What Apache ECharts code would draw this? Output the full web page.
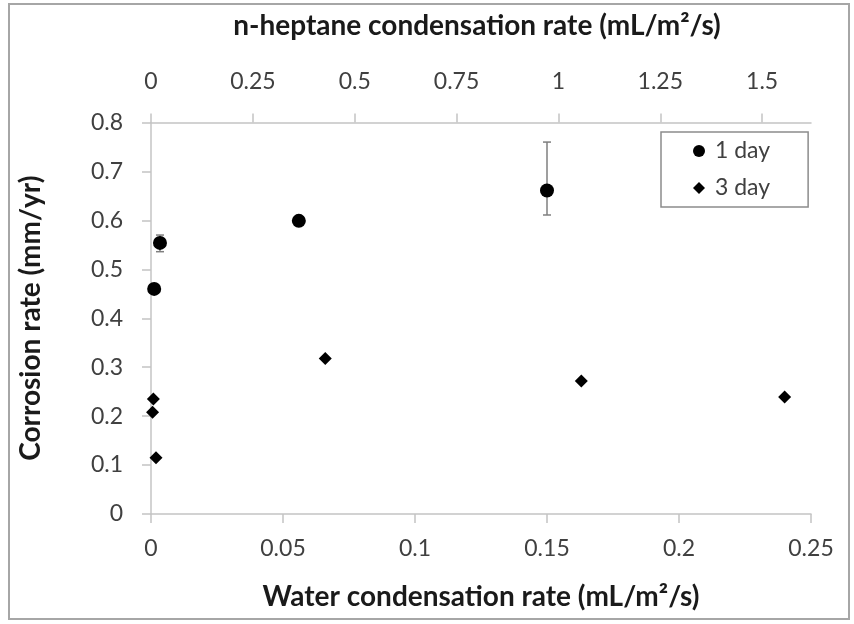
<!DOCTYPE html>
<html>
<head>
<meta charset="utf-8">
<script src="https://cdn.jsdelivr.net/npm/echarts@6/dist/echarts.min.js"></script>
<style>
  html, body { margin: 0; padding: 0; background: #fff; }
  #chart { width: 854px; height: 624px; }
</style>
</head>
<body>
<div id="chart"></div>
<script>
// Water condensation rate (mL/m²/s) and corrosion rate (mm/yr)
const waterRate1Day = [0.0012, 0.0034, 0.056, 0.150];
const corrosion1Day = [0.460, 0.554, 0.599, 0.661];
// error bar bounds for the 1 day series
const errLow1Day  = [0.460, 0.536, 0.599, 0.611];
const errHigh1Day = [0.460, 0.570, 0.599, 0.760];

const waterRate3Day = [0.0009, 0.0006, 0.0019, 0.066, 0.163, 0.240];
const corrosion3Day = [0.235, 0.208, 0.115, 0.318, 0.272, 0.239];

const heptaneTicks = [0, 0.25, 0.5, 0.75, 1, 1.25, 1.5];

const FONT = 'Lato';
const AXIS_GRAY = '#c4c4c4';
const LABEL_COLOR = '#404040';

const chart = echarts.init(document.getElementById('chart'), null, { renderer: 'canvas' });

const pairs = (xs, ys) => xs.map((x, i) => [x, ys[i]]);
const errData = waterRate1Day.map((x, i) => [x, errLow1Day[i], errHigh1Day[i]]);

chart.setOption({
  backgroundColor: '#ffffff',
  animation: false,
  textStyle: { fontFamily: FONT },
  grid: { left: 151, right: 43, top: 122.5, bottom: 110, containLabel: false },
  graphic: [{
    type: 'rect',
    shape: { x: 9, y: 4, width: 840, height: 615 },
    style: { fill: 'none', stroke: '#a6a6a6', lineWidth: 2 },
    silent: true
  }],
  legend: {
    left: 661, top: 132,
    orient: 'vertical',
    padding: [7, 38, 7, 32],
    itemGap: 13,
    itemWidth: 12, itemHeight: 12,
    borderColor: '#8c8c8c', borderWidth: 1.5,
    textStyle: { fontFamily: FONT, fontSize: 23, color: LABEL_COLOR, lineHeight: 24, padding: [0, 0, 0, 5] },
    data: [
      { name: '1 day', icon: 'circle' },
      { name: '3 day', icon: 'diamond' }
    ]
  },
  xAxis: [{
    type: 'value',
    position: 'bottom',
    min: 0, max: 0.25, interval: 0.05,
    name: 'Water condensation rate (mL/m²/s)',
    nameLocation: 'middle',
    nameGap: 69,
    nameTextStyle: { fontFamily: FONT, fontSize: 28, fontWeight: 'bold', color: '#1a1a1a' },
    axisLine: { show: true, onZero: false, lineStyle: { color: AXIS_GRAY, width: 1.5 } },
    axisTick: { show: true, inside: false, length: 9, lineStyle: { color: AXIS_GRAY, width: 1.5 } },
    axisLabel: { margin: 23, fontSize: 23, color: LABEL_COLOR, fontFamily: FONT },
    splitLine: { show: false }
  }, {
    type: 'value',
    position: 'top',
    min: 0, max: 1.62, interval: 0.25,
    name: 'n-heptane condensation rate (mL/m²/s)',
    nameLocation: 'middle',
    nameGap: 83,
    nameTextStyle: { fontFamily: FONT, fontSize: 28, fontWeight: 'bold', color: '#1a1a1a', padding: [0, 8, 0, 0] },
    axisLine: { show: true, onZero: false, lineStyle: { color: AXIS_GRAY, width: 1.5 } },
    axisTick: { show: true, inside: false, length: 9, customValues: heptaneTicks, lineStyle: { color: AXIS_GRAY, width: 1.5 } },
    axisLabel: { margin: 29, fontSize: 23, color: LABEL_COLOR, fontFamily: FONT, customValues: heptaneTicks },
    splitLine: { show: false }
  }],
  yAxis: {
    type: 'value',
    min: 0, max: 0.8, interval: 0.1,
    name: 'Corrosion rate (mm/yr)',
    nameLocation: 'middle',
    nameGap: 106,
    nameRotate: 90,
    nameTextStyle: { fontFamily: FONT, fontSize: 28, fontWeight: 'bold', color: '#1a1a1a' },
    axisLine: { show: true, onZero: false, lineStyle: { color: AXIS_GRAY, width: 1.5 } },
    axisTick: { show: true, inside: false, length: 9, lineStyle: { color: AXIS_GRAY, width: 1.5 } },
    axisLabel: { margin: 28, fontSize: 23, color: LABEL_COLOR, fontFamily: FONT },
    splitLine: { show: false }
  },
  series: [{
    name: '1 day error',
    type: 'custom',
    xAxisIndex: 0,
    z: 1,
    silent: true,
    data: errData,
    renderItem: function (params, api) {
      const x = api.value(0), lo = api.value(1), hi = api.value(2);
      if (!(hi > lo)) return null;
      const pLo = api.coord([x, lo]);
      const pHi = api.coord([x, hi]);
      const cap = 4;
      const style = { stroke: '#7f7f7f', lineWidth: 1.5, fill: 'none' };
      return {
        type: 'group',
        children: [
          { type: 'line', shape: { x1: pLo[0], y1: pLo[1], x2: pHi[0], y2: pHi[1] }, style: style },
          { type: 'line', shape: { x1: pLo[0] - cap, y1: pLo[1], x2: pLo[0] + cap, y2: pLo[1] }, style: style },
          { type: 'line', shape: { x1: pHi[0] - cap, y1: pHi[1], x2: pHi[0] + cap, y2: pHi[1] }, style: style }
        ]
      };
    }
  }, {
    name: '1 day',
    type: 'scatter',
    xAxisIndex: 0,
    z: 3,
    symbol: 'circle',
    symbolSize: 14,
    itemStyle: { color: '#000000', opacity: 1 },
    data: pairs(waterRate1Day, corrosion1Day)
  }, {
    name: '3 day',
    type: 'scatter',
    xAxisIndex: 0,
    z: 3,
    symbol: 'diamond',
    symbolSize: [13, 13],
    itemStyle: { color: '#000000', opacity: 1 },
    data: pairs(waterRate3Day, corrosion3Day)
  }]
});
</script>
</body>
</html>
